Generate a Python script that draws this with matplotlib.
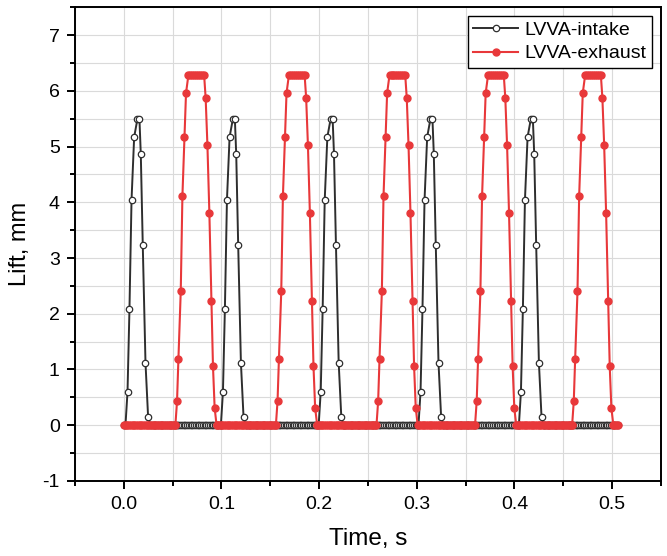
import matplotlib
matplotlib.use("Agg")
import matplotlib.pyplot as plt
from matplotlib.ticker import MultipleLocator, FormatStrFormatter
import numpy as np

plt.rcParams['font.family'] = ['Liberation Sans', 'DejaVu Sans']
plt.rcParams['axes.unicode_minus'] = False

# intake lift profile of one cycle (time in s, lift in mm), read from the first pulse
intake_t = [0.0017, 0.0038, 0.0058, 0.0079, 0.0106, 0.0140, 0.0160,
            0.0174, 0.0194, 0.0222, 0.0249, 0.0270]
intake_lift = [0.0, 0.60, 2.09, 4.04, 5.17, 5.50, 5.50,
               4.86, 3.24, 1.12, 0.14, 0.0]
# shift of each intake pulse relative to the first one
intake_shift = [0.0, 0.0977, 0.1978, 0.3000, 0.4028]

# exhaust lift profile of one cycle
exhaust_t = [0.0528, 0.0545, 0.0559, 0.0583, 0.0600, 0.0621, 0.0637,
             0.0662, 0.0682, 0.0702, 0.0722, 0.0742, 0.0762, 0.0782, 0.0802, 0.0822,
             0.0838, 0.0856, 0.0876, 0.0897, 0.0913, 0.0930, 0.0950]
exhaust_lift = [0.0, 0.43, 1.18, 2.40, 4.11, 5.18, 5.96,
                6.29, 6.29, 6.29, 6.29, 6.29, 6.29, 6.29, 6.29, 6.29,
                5.87, 5.03, 3.81, 2.22, 1.06, 0.31, 0.0]
exhaust_shift = [0.0, 0.1029, 0.2059, 0.3068, 0.4062]

# the closed valve sits at 0 mm between pulses, logged every ~1.8 ms up to ~0.506 s
t_end = 0.506
base_step = 0.0018


def build_series(pulse_t, pulse_lift, shifts):
    base = np.arange(0.0, t_end, base_step)
    keep = np.ones(len(base), dtype=bool)
    ts, ys = [], []
    for s in shifts:
        lo, hi = pulse_t[0] + s, pulse_t[-1] + s
        keep &= ~((base >= lo) & (base <= hi))
        ts += [t + s for t in pulse_t]
        ys += list(pulse_lift)
    ts = np.concatenate([base[keep], ts])
    ys = np.concatenate([np.zeros(keep.sum()), ys])
    order = np.argsort(ts)
    return ts[order], ys[order]


t_in, y_in = build_series(intake_t, intake_lift, intake_shift)
t_ex, y_ex = build_series(exhaust_t, exhaust_lift, exhaust_shift)

fig = plt.figure(figsize=(6.67, 5.56), dpi=100)
ax = fig.add_axes([0.1124, 0.135, 0.8786, 0.852])

ax.plot(t_in, y_in, color='#2e2e2e', lw=1.4, marker='o', ms=4.6,
        mfc='white', mec='#2e2e2e', mew=0.9, label='LVVA-intake', zorder=3)
ax.plot(t_ex, y_ex, color='#e8383a', lw=1.5, marker='o', ms=5.0,
        mfc='#e8383a', mec='#e8383a', label='LVVA-exhaust', zorder=4)

ax.set_xlim(-0.05, 0.55)
ax.set_ylim(-1, 7.5)
ax.xaxis.set_major_locator(MultipleLocator(0.1))
ax.xaxis.set_minor_locator(MultipleLocator(0.05))
ax.xaxis.set_major_formatter(FormatStrFormatter('%.1f'))
ax.yaxis.set_major_locator(MultipleLocator(1))
ax.yaxis.set_minor_locator(MultipleLocator(0.5))

ax.grid(True, which='both', color='#dadada', lw=0.8, zorder=0)
ax.set_axisbelow(True)

ax.tick_params(which='both', direction='out', width=1.4, labelsize=14,
               top=False, right=False, pad=5)
ax.tick_params(which='major', length=6)
ax.tick_params(which='minor', length=3.5)
for sp in ax.spines.values():
    sp.set_linewidth(1.4)

ax.set_xlabel('Time, s', fontsize=17.5, labelpad=11)
ax.set_ylabel('Lift, mm', fontsize=17, labelpad=8)

leg = ax.legend(loc='upper right', fontsize=14, fancybox=False, framealpha=1,
                edgecolor='black', borderaxespad=0.45, handlelength=2.3,
                borderpad=0.28, labelspacing=0.3, handletextpad=0.35)
leg.get_frame().set_linewidth(1.0)

fig.savefig('out.png', dpi=100)
